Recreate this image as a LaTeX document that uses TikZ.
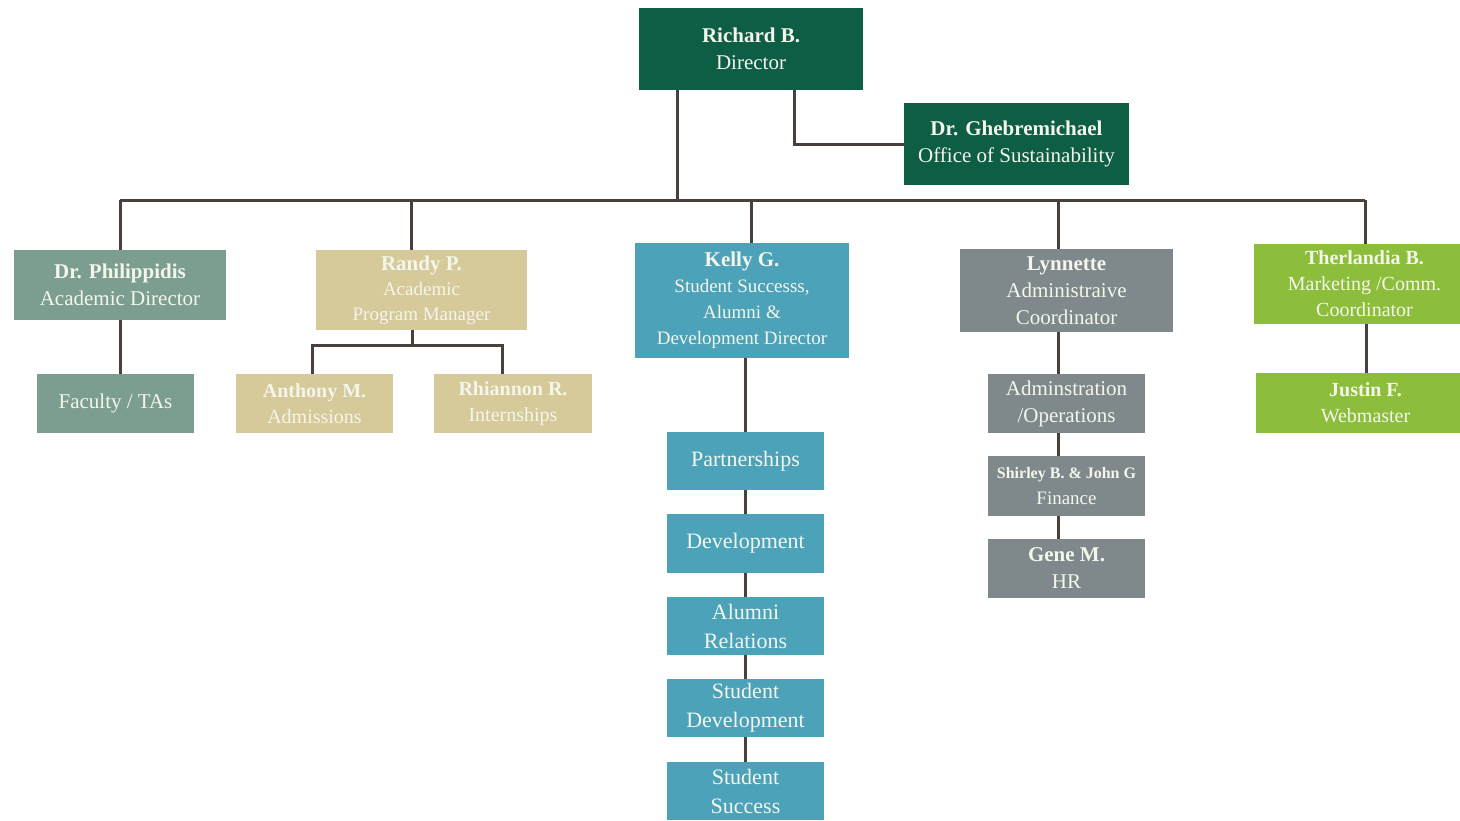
\documentclass[tikz,border=0pt]{standalone}
\usepackage{fontspec}
\setmainfont{Liberation Serif}
\definecolor{dkgreen}{HTML}{0E5E45}
\definecolor{sage}{HTML}{7C9E90}
\definecolor{tan}{HTML}{D6C99A}
\definecolor{teal}{HTML}{4BA2B9}
\definecolor{slate}{HTML}{7F898B}
\definecolor{lime}{HTML}{8DBE3B}
\definecolor{linec}{HTML}{4A403B}
\definecolor{txt}{HTML}{F4F6EC}
\tikzset{
  box/.style={rectangle, inner sep=1pt, align=center, text=txt, font=\fontsize{10.5}{13.5}\selectfont},
  conn/.style={draw=linec, line width=1.5pt},
}
\begin{document}
\begin{tikzpicture}[x=0.5pt,y=-0.5pt]
\useasboundingbox (0,0) rectangle (1460,820);
\clip (0,0) rectangle (1460,820);
% nodes
\node[box, fill=dkgreen, minimum width=112pt, minimum height=41pt] (richard) at (751,49) {\textbf{Richard B.}\\Director};
\node[box, fill=dkgreen, minimum width=112.5pt, minimum height=41pt] (gheb) at (1016.5,144) {\textbf{Dr. Ghebremichael}\\Office of Sustainability};
\node[box, fill=sage, minimum width=106pt, minimum height=35pt] (phil) at (120,285) {\textbf{Dr. Philippidis}\\Academic Director};
\node[box, fill=sage, minimum width=78.5pt, minimum height=29.5pt] (faculty) at (115.5,403.5) {Faculty / TAs};
\node[box, fill=tan, minimum width=105.5pt, minimum height=40pt, font=\fontsize{9.5}{12.5}\selectfont] (randy) at (421.5,290) {\textbf{\fontsize{10.5}{12.5}\selectfont Randy P.}\\Academic\\Program Manager};
\node[box, fill=tan, minimum width=78.5pt, minimum height=29.5pt, font=\fontsize{10}{13}\selectfont] (anthony) at (314.5,403.5) {\textbf{Anthony M.}\\Admissions};
\node[box, fill=tan, minimum width=79pt, minimum height=29.5pt, font=\fontsize{10}{13}\selectfont] (rhiannon) at (513,403.5) {\textbf{Rhiannon R.}\\Internships};
\node[box, fill=teal, minimum width=107pt, minimum height=57.5pt, font=\fontsize{9.5}{13}\selectfont] (kelly) at (742,300.5) {\textbf{\fontsize{10.5}{13}\selectfont Kelly G.}\\Student Successs,\\Alumni \&\\Development Director};
\node[box, fill=teal, minimum width=78.5pt, minimum height=29pt, font=\fontsize{11}{14.5}\selectfont] (partner) at (745.5,461) {Partnerships};
\node[box, fill=teal, minimum width=78.5pt, minimum height=29.5pt, font=\fontsize{11}{14.5}\selectfont] (devel) at (745.5,543.5) {Development};
\node[box, fill=teal, minimum width=78.5pt, minimum height=29pt, font=\fontsize{11}{14.5}\selectfont] (alumni) at (745.5,626) {Alumni\\Relations};
\node[box, fill=teal, minimum width=78.5pt, minimum height=29pt, font=\fontsize{11}{14.5}\selectfont] (studdev) at (745.5,708) {Student\\Development};
\node[box, fill=teal, minimum width=78.5pt, minimum height=29pt, font=\fontsize{11}{14.5}\selectfont] (studsucc) at (745.5,791) {Student\\Success};
\node[box, fill=slate, minimum width=106.5pt, minimum height=41.5pt] (lynn) at (1066.5,290.5) {\textbf{Lynnette}\\Administraive\\Coordinator};
\node[box, fill=slate, minimum width=78.5pt, minimum height=29.5pt] (admin) at (1066.5,403.5) {Adminstration\\/Operations};
\node[box, fill=slate, minimum width=78.5pt, minimum height=30pt, font=\fontsize{9.5}{13}\selectfont] (shirley) at (1066.5,486) {\textbf{\fontsize{8}{13}\selectfont Shirley B. \& John G}\\Finance};
\node[box, fill=slate, minimum width=78.5pt, minimum height=29.5pt] (gene) at (1066.5,568.5) {\textbf{Gene M.}\\HR};
\node[box, fill=lime, minimum width=110.5pt, minimum height=40pt, font=\fontsize{10}{13}\selectfont] (ther) at (1364.5,284) {\textbf{Therlandia B.}\\Marketing /Comm.\\Coordinator};
\node[box, fill=lime, minimum width=109.5pt, minimum height=30pt, font=\fontsize{10}{13}\selectfont] (justin) at (1365.5,403) {\textbf{Justin F.}\\Webmaster};
% coordinates
\coordinate (trunk) at (677,200);
\coordinate (sidex) at (794,144);
\coordinate (busL) at (120,200);
\coordinate (busR) at (1365,200);
\coordinate (randyx) at (411,200);
\coordinate (kellyx) at (751,200);
\coordinate (lynnx) at (1058,200);
\coordinate (kellydown) at (745,0);
\coordinate (lynndown) at (1058,0);
\coordinate (therdown) at (1366,0);
\coordinate (rsplit) at (412,345);
\coordinate (rleft) at (312,345);
\coordinate (rright) at (502,345);
% connectors
\draw[conn] (trunk |- richard.south) -- (trunk);
\draw[conn] (sidex |- richard.south) -- (sidex |- gheb.west) -- (gheb.west);
\draw[conn] (busL) -- (busR);
\draw[conn] (busL) -- (phil.north);
\draw[conn] (randyx) -- (randyx |- randy.north);
\draw[conn] (kellyx) -- (kellyx |- kelly.north);
\draw[conn] (lynnx) -- (lynnx |- lynn.north);
\draw[conn] (busR) -- (busR |- ther.north);
\draw[conn] (phil.south) -- (phil.south |- faculty.north);
\draw[conn] (rsplit |- randy.south) -- (rsplit);
\draw[conn] (rleft |- anthony.north) -- (rleft) -- (rright) -- (rright |- rhiannon.north);
\draw[conn] (kellydown |- kelly.south) -- (kellydown |- partner.north);
\draw[conn] (kellydown |- partner.south) -- (kellydown |- devel.north);
\draw[conn] (kellydown |- devel.south) -- (kellydown |- alumni.north);
\draw[conn] (kellydown |- alumni.south) -- (kellydown |- studdev.north);
\draw[conn] (kellydown |- studdev.south) -- (kellydown |- studsucc.north);
\draw[conn] (lynndown |- lynn.south) -- (lynndown |- admin.north);
\draw[conn] (lynndown |- admin.south) -- (lynndown |- shirley.north);
\draw[conn] (lynndown |- shirley.south) -- (lynndown |- gene.north);
\draw[conn] (therdown |- ther.south) -- (therdown |- justin.north);
\end{tikzpicture}
\end{document}
